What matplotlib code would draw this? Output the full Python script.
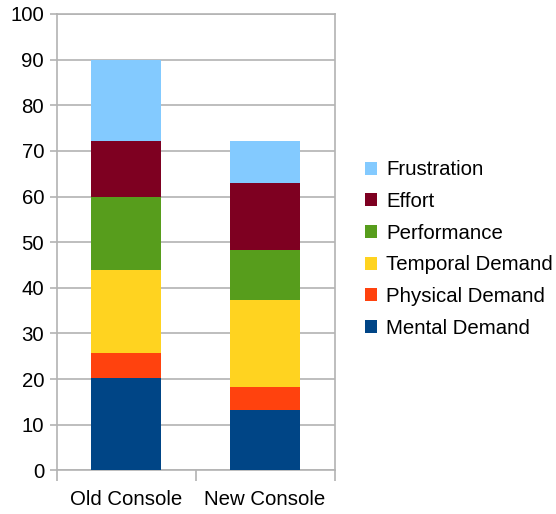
import matplotlib
matplotlib.use("Agg")
import matplotlib.pyplot as plt
from matplotlib.patches import Patch
import numpy as np

categories = ["Old Console", "New Console"]
series_names = ["Mental Demand", "Physical Demand", "Temporal Demand",
                "Performance", "Effort", "Frustration"]
mental = [20.3, 13.2]
physical = [5.5, 5.1]
temporal = [18.2, 19.0]
performance = [15.8, 11.0]
effort = [12.3, 14.7]
frustration = [17.9, 9.2]
colors = ["#004586", "#ff420e", "#ffd320", "#579d1c", "#7e0021", "#83caff"]
yticks = list(range(0, 101, 10))

plt.rcParams['font.family'] = ['Liberation Sans', 'DejaVu Sans']

fig = plt.figure(figsize=(5.56, 5.14), dpi=100)
ax = fig.add_axes([56.5/556, 1 - 470.3/514, (334.5-56.5)/556, (470.3-14)/514])

x = np.arange(len(categories))
bottom = np.zeros(len(categories))
series = [mental, physical, temporal, performance, effort, frustration]
for vals, c, name in zip(series, colors, series_names):
    ax.bar(x, vals, width=0.5, bottom=bottom, color=c, label=name, zorder=3)
    bottom += np.array(vals)

fs = 14.7
ax.set_xlim(-0.5, 1.5)
ax.set_ylim(0, 100)
ax.set_yticks(yticks)
ax.set_xticks(x)
ax.set_xticklabels(categories)
ax.set_xticks([-0.5, 0.5, 1.5], minor=True)
gc = "#b3b3b3"
ax.yaxis.grid(True, color=gc, linewidth=1.2, zorder=0)
for s in ax.spines.values():
    s.set_color(gc)
    s.set_linewidth(1.2)
ax.tick_params(axis='y', colors=gc, labelcolor='black', labelsize=fs, length=5, width=1.2, pad=4)
ax.tick_params(axis='x', which='major', length=0, labelsize=fs, labelcolor='black', pad=14)
ax.tick_params(axis='x', which='minor', length=8, width=1.2, colors=gc)

handles = [Patch(facecolor=c, edgecolor='none') for c in colors][::-1]
labels = series_names[::-1]
fig.legend(handles, labels, loc='center left', bbox_to_anchor=(365/556, 1 - 249/514),
           frameon=False, fontsize=fs, handlelength=0.6, handleheight=0.6,
           handletextpad=0.45, labelspacing=0.62, borderaxespad=0, borderpad=0)

fig.savefig("out.png", dpi=100)
